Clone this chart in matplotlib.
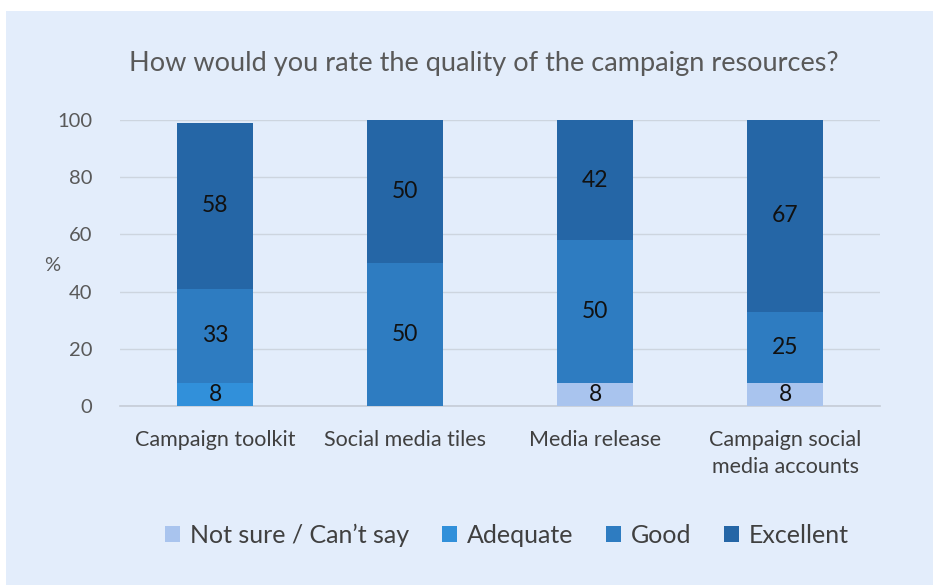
import matplotlib
matplotlib.use("Agg")
import matplotlib.pyplot as plt
from matplotlib.patches import Rectangle
import numpy as np

categories = ["Campaign toolkit", "Social media tiles", "Media release", "Campaign social\nmedia accounts"]
series_names = ["Not sure / Can\u2019t say", "Adequate", "Good", "Excellent"]
not_sure = [0, 0, 8, 8]
adequate = [8, 0, 0, 0]
good = [33, 50, 50, 25]
excellent = [58, 50, 42, 67]
yticks = [0, 20, 40, 60, 80, 100]

colors = ["#A9C4EE", "#3190DA", "#2E7CC1", "#2566A6"]
bg = "#E3EDFB"

plt.rcParams['font.family'] = ['Lato', 'DejaVu Sans']

W, H = 933, 585
fig = plt.figure(figsize=(W/100, H/100), dpi=100, facecolor="white")
fig.patches.append(Rectangle((6/W, 0), 1 - 6/W, 1 - 11/H, transform=fig.transFigure,
                             facecolor=bg, edgecolor="none", zorder=-10))

ax = fig.add_axes([120/W, 1 - 406/H, 760/W, 286/H])
ax.set_zorder(1)
ax.patch.set_alpha(0)

x = np.arange(len(categories))
data = [not_sure, adequate, good, excellent]
bottom = np.zeros(len(categories))
for vals, c, name in zip(data, colors, series_names):
    vals = np.array(vals, dtype=float)
    ax.bar(x, vals, 0.4, bottom=bottom, color=c, label=name, zorder=3)
    for xi, v, b in zip(x, vals, bottom):
        if v > 0:
            ax.text(xi, b + v/2, f"{int(v)}", ha="center", va="center",
                    fontsize=16.5, color="#111111", zorder=4)
    bottom += vals

ax.set_xlim(-0.5, 3.5)
ax.set_ylim(0, 100)
ax.set_yticks(yticks)
ax.set_yticklabels([str(t) for t in yticks], fontsize=14.5, color="#595959")
ax.set_xticks(x)
ax.set_xticklabels(categories, fontsize=15.5, color="#404040", linespacing=1.45)
ax.tick_params(axis="y", length=0, pad=20)
ax.tick_params(axis="x", length=0, pad=17)
ax.yaxis.grid(True, color="#CDD5DF", linewidth=1, zorder=0)
ax.set_axisbelow(True)
for s in ["top", "right", "left"]:
    ax.spines[s].set_visible(False)
ax.spines["bottom"].set_color("#C5CCD6")
ax.spines["bottom"].set_linewidth(1.2)

fig.text(52/W, 1 - 266/H, "%", fontsize=14.5, color="#595959", ha="center", va="center")
fig.text(484/W, 1 - 64/H, "How would you rate the quality of the campaign resources?",
         fontsize=19.5, color="#595959", ha="center", va="center")

leg = fig.legend(loc="center", bbox_to_anchor=(507/W, 1 - 535/H), ncol=4, frameon=False,
                 fontsize=18, handlelength=0.6, handleheight=0.6, handletextpad=0.4,
                 columnspacing=1.3, labelcolor="#404040")

fig.savefig("out.png", dpi=100, facecolor="white")
